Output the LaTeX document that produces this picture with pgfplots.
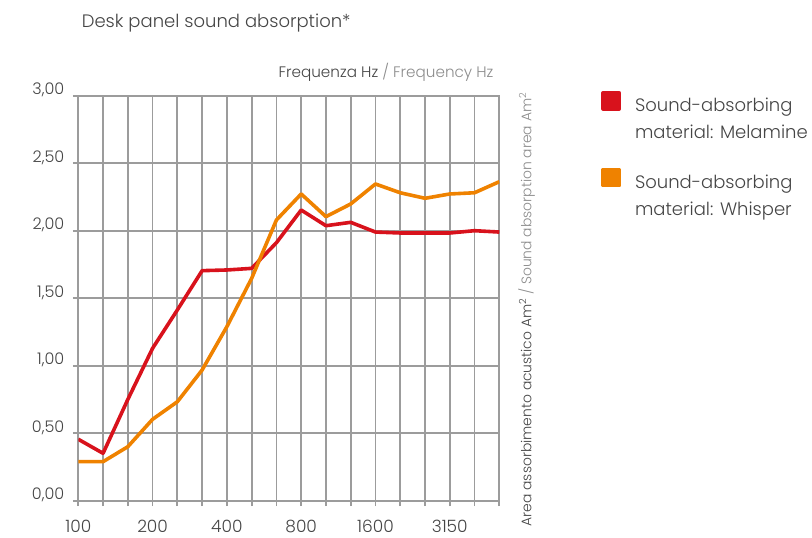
\documentclass[border=0pt]{standalone}
\usepackage{pgfplots}
\pgfplotsset{compat=1.18}
\usepackage{fontspec}
\setmainfont{Poppins}[UprightFont=* Light]
\definecolor{mred}{HTML}{D8121C}
\definecolor{morange}{HTML}{EF8200}
\definecolor{gridgray}{HTML}{9C9C9C}
\definecolor{txt}{HTML}{454545}
\definecolor{txtl}{HTML}{8C8C8C}
\begin{document}
\begin{tikzpicture}
\useasboundingbox (0,0) rectangle (812pt,538pt);
\begin{axis}[
  at={(78.3pt,37.3pt)}, anchor=south west,
  scale only axis, width=421pt, height=405pt,
  xmin=0, xmax=17, ymin=0, ymax=3,
  xtick={0,...,17},
  xticklabels={100,,,200,,,400,,,800,,,1600,,,3150,,},
  ytick={0,0.5,1,1.5,2,2.5,3},
  yticklabels={{0,00},{0,50},{1,00},{1,50},{2,00},{2,50},{3,00}},
  grid=major,
  major grid style={gridgray, line width=1.8pt},
  axis line style={gridgray, line width=1.8pt},
  tick style={gridgray, line width=1.8pt},
  tick align=outside, major tick length=5.5pt,
  xtick pos=lower, ytick pos=left,
  ticklabel style={text=txt},
  yticklabel style={font=\fontsize{16}{19}\selectfont, anchor=base east, xshift=-5pt, yshift=1pt},
  xticklabel style={font=\fontsize{17}{20}\selectfont, anchor=north, inner sep=0pt, yshift=-14pt},
  title={Desk panel sound absorption*},
  title style={at={(rel axis cs:0,1.153)}, anchor=base west, font=\fontsize{18}{22}\selectfont, text=txt},
  xlabel={Frequenza Hz {\color{txtl}/ Frequency Hz}},
  xlabel style={at={(rel axis cs:0.9945,1.0437)}, anchor=base east, font=\fontsize{15.2}{18}\selectfont, text=txt},
  ylabel={Area assorbimento acustico Am\textsuperscript{2} {\color{txtl}/ Sound absorption area Am\textsuperscript{2}}},
  ylabel style={at={(rel axis cs:1.065,-0.072)}, anchor=west, font=\fontsize{13.9}{17}\selectfont, text=txt},
  legend style={at={(rel axis cs:1.235,1.017)}, anchor=north west, draw=none, fill=none,
    cells={align=left}, font=\fontsize{18}{27}\selectfont, text=txt, row sep=26pt,
    /tikz/every odd column/.append style={column sep=12pt}},
  legend cell align=left,
  legend image code/.code={\fill[#1] (0pt,10pt) rectangle (16pt,26pt);},
]
\addplot[color=mred, line width=3.6pt, line join=round] coordinates {
 (0,0.455) (1,0.351) (2,0.75) (3,1.129) (4,1.413) (5,1.704) (6,1.709) (7,1.721)
 (8,1.911) (9,2.153) (10,2.037) (11,2.062) (12,1.99) (13,1.983) (14,1.983)
 (15,1.983) (16,2.0) (17,1.99)};
\addlegendentry{Sound-absorbing\\material: Melamine}
\addplot[color=morange, line width=3.6pt, line join=round] coordinates {
 (0,0.289) (1,0.289) (2,0.40) (3,0.603) (4,0.733) (5,0.968) (6,1.289) (7,1.647)
 (8,2.079) (9,2.272) (10,2.104) (11,2.198) (12,2.346) (13,2.281) (14,2.24)
 (15,2.272) (16,2.281) (17,2.363)};
\addlegendentry{Sound-absorbing\\material: Whisper}
\end{axis}
\end{tikzpicture}
\end{document}
